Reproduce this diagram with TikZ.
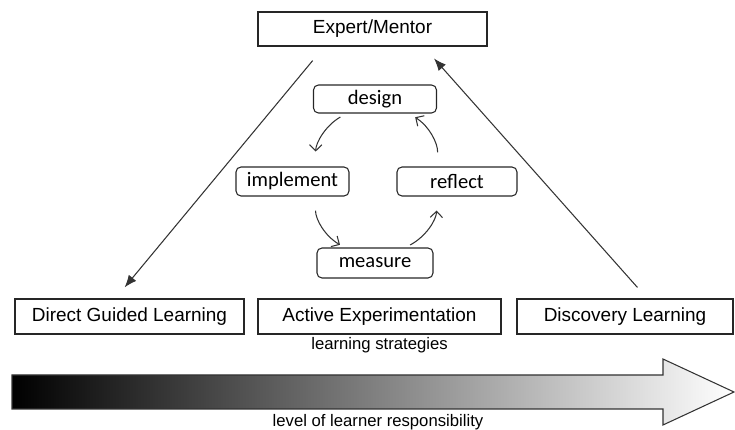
\documentclass[tikz,border=0pt]{standalone}
\usepackage{fontspec}
\setmainfont{Liberation Sans}
\newfontfamily\stagefont{Carlito}
\usepackage{xcolor}
\definecolor{linegray}{RGB}{51,51,51}
\usepackage{tikz}
\usetikzlibrary{arrows.meta}
\newcommand{\heightstrategy}{0.70cm}
\newcommand{\heightstage}{0.58cm}
\tikzset{
    common/.style={draw=black!85, rectangle, inner sep=0pt, line width=0.6pt},
    strategy/.style={common, minimum height=\heightstrategy, font=\fontsize{10.8}{12}\selectfont},
    mentor/.style={strategy, minimum height=0.68cm, minimum width=4.58cm},
    stage/.style={common, rounded corners=2.8pt, minimum height=\heightstage, font=\stagefont\fontsize{11.7}{13}\selectfont},
    caption/.style={font=\fontsize{9.5}{11}\selectfont},
    role/.style={draw=linegray, line width=0.6pt, -{Latex[length=7pt, width=5.5pt]}},
    stagearrow/.style={draw=linegray, line width=0.6pt, -{Straight Barb[length=3.5pt, width=7pt]}},
    responsibility/.style={draw=linegray, line width=0.6pt, left color=black, middle color=black!28, right color=white}
}

\begin{document}
\begin{tikzpicture}[x=0.02cm, y=0.02cm]
    \useasboundingbox (0,0) rectangle (735,430);

    \path (372.5,401) node[mentor] (mentor) {Expert/Mentor};
    \path (129.5,113.5) node[strategy, minimum width=4.58cm] (direct) {Direct Guided Learning}
        to ++(250,0) node[strategy, minimum width=4.86cm] (active) {Active Experimentation}
        to ++(245.5,0) node[strategy, minimum width=4.32cm] (discovery) {Discovery Learning};
    \path (active.south) to ++(0,-11) node[caption] (strategies) {learning strategies};

    \path (375,248.5) coordinate (hub)
        to ++(90:82.5) node[stage, minimum width=2.46cm, minimum height=0.56cm] (design) {design};
    \path (hub) to ++(180:82.5) node[stage, minimum width=2.26cm] (implement) {implement};
    \path (hub) to ++(0:82) node[stage, minimum width=2.40cm] (reflect) {reflect};
    \path (hub) to ++(270:81.5) node[stage, minimum width=2.32cm, minimum height=0.60cm] (measure) {measure};

    \draw[stagearrow, shorten <=4pt, shorten >=8.5pt] (design.207) to[bend right=30] (implement.33);
    \draw[stagearrow, shorten <=8pt, shorten >=3pt] (implement.327) to[bend right=30] (measure.153);
    \draw[stagearrow, shorten <=3pt, shorten >=8pt] (measure.27) to[bend right=30] (reflect.217);
    \draw[stagearrow, shorten <=8pt, shorten >=4pt] (reflect.143) to[bend right=30] (design.337);

    \draw[role, shorten <=10.4pt, shorten >=8.2pt] (mentor.200) -- (direct.128);
    \draw[role, shorten <=8.4pt, shorten >=9.1pt] (discovery.39) -- (mentor.341);

    \shadedraw[responsibility] (12,55) -- (663,55) -- (663,71) -- (734,38) -- (663,5) -- (663,21) -- (12,21) -- cycle;
    \path (378,8) node[caption] (level) {level of learner responsibility};
\end{tikzpicture}
\end{document}
